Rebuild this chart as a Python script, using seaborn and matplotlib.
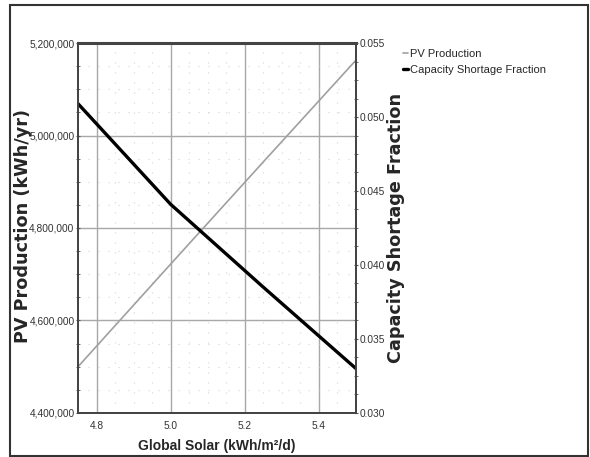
import matplotlib
matplotlib.use("Agg")
import matplotlib.pyplot as plt
import matplotlib.ticker as mticker
from matplotlib.patches import Rectangle
import seaborn as sns
import pandas as pd

# sensitivity values
global_solar = [4.75, 5.0, 5.25, 5.5]
pv_production = [4500000, 4722000, 4943000, 5163000]
shortage_fraction = [0.0509, 0.0441, 0.0385, 0.0330]

df = pd.DataFrame({"solar": global_solar,
                   "pv": pv_production,
                   "csf": shortage_fraction})

sns.set_style("white")
plt.rcParams["font.family"] = ["Liberation Sans Narrow", "Liberation Sans", "DejaVu Sans"]

fig = plt.figure(figsize=(5.9, 4.57), dpi=100)
ax = fig.add_axes([0.1322, 0.0963, 0.4712, 0.8096])
ax2 = ax.twinx()

ax.set_xlim(4.75, 5.5)
ax.set_ylim(4400000, 5200000)
ax2.set_ylim(0.030, 0.055)
ax.xaxis.set_major_locator(mticker.FixedLocator([4.8, 5.0, 5.2, 5.4]))
ax.xaxis.set_minor_locator(mticker.MultipleLocator(0.05))
ax.yaxis.set_major_locator(mticker.MultipleLocator(200000))
ax.yaxis.set_minor_locator(mticker.MultipleLocator(50000))
ax2.yaxis.set_major_locator(mticker.MultipleLocator(0.005))
ax2.yaxis.set_minor_locator(mticker.MultipleLocator(0.00125))
ax.xaxis.set_major_formatter(mticker.FormatStrFormatter("%.1f"))
ax.yaxis.set_major_formatter(mticker.StrMethodFormatter("{x:,.0f}"))
ax2.yaxis.set_major_formatter(mticker.FormatStrFormatter("%.3f"))

ax.grid(which="major", color="#a8a8a8", lw=1.0)
ax.grid(which="minor", color="#d4d4d4", lw=0.8, linestyle=(0, (1, 8)))
ax.set_axisbelow(True)

sns.lineplot(data=df, x="solar", y="pv", ax=ax, color="#a0a0a0", lw=1.2,
             label="PV Production", legend=False)
sns.lineplot(data=df, x="solar", y="csf", ax=ax2, color="black", lw=2.4,
             label="Capacity Shortage Fraction", legend=False)

for a in (ax, ax2):
    for s in a.spines.values():
        s.set_color("#444444")
        s.set_linewidth(1.3)
    a.tick_params(which="both", labelsize=7.3, labelcolor="#333333",
                  color="#555555")
ax.spines["top"].set_linewidth(2.2)
ax.tick_params(axis="y", which="major", length=3, pad=1, direction="inout")
ax.tick_params(axis="y", which="minor", length=3, direction="inout")
ax.tick_params(axis="x", which="major", length=3, pad=4, direction="inout")
ax.tick_params(axis="x", which="minor", length=2, direction="in")
ax2.tick_params(axis="y", which="major", length=3, pad=1, direction="inout")
ax2.tick_params(axis="y", which="minor", length=3, direction="inout")

ax.set_xlabel("Global Solar (kWh/m²/d)", fontsize=10, fontweight="bold")
ax.xaxis.set_label_coords(0.5, -0.069)
ax.set_ylabel("PV Production (kWh/yr)", fontsize=12.7, fontweight="bold",
              family=["DejaVu Sans"])
ax.yaxis.set_label_coords(-0.166, 0.505)
ax2.set_ylabel("Capacity Shortage Fraction", fontsize=12.7, fontweight="bold",
               family=["DejaVu Sans"])
ax2.yaxis.set_label_coords(1.11, 0.5)

h1, l1 = ax.get_legend_handles_labels()
h2, l2 = ax2.get_legend_handles_labels()
fig.legend(h1 + h2, l1 + l2, loc="upper left",
           bbox_to_anchor=(0.676, 0.902), frameon=False, fontsize=8,
           handlelength=0.4, handletextpad=0.2, labelspacing=0.55,
           borderaxespad=0)

fig.patches.append(Rectangle((10 / 590, 1 / 457), 578 / 590, 451 / 457,
                             transform=fig.transFigure, fill=False,
                             edgecolor="#333333", lw=1.5))

fig.savefig("out.png", dpi=100)
